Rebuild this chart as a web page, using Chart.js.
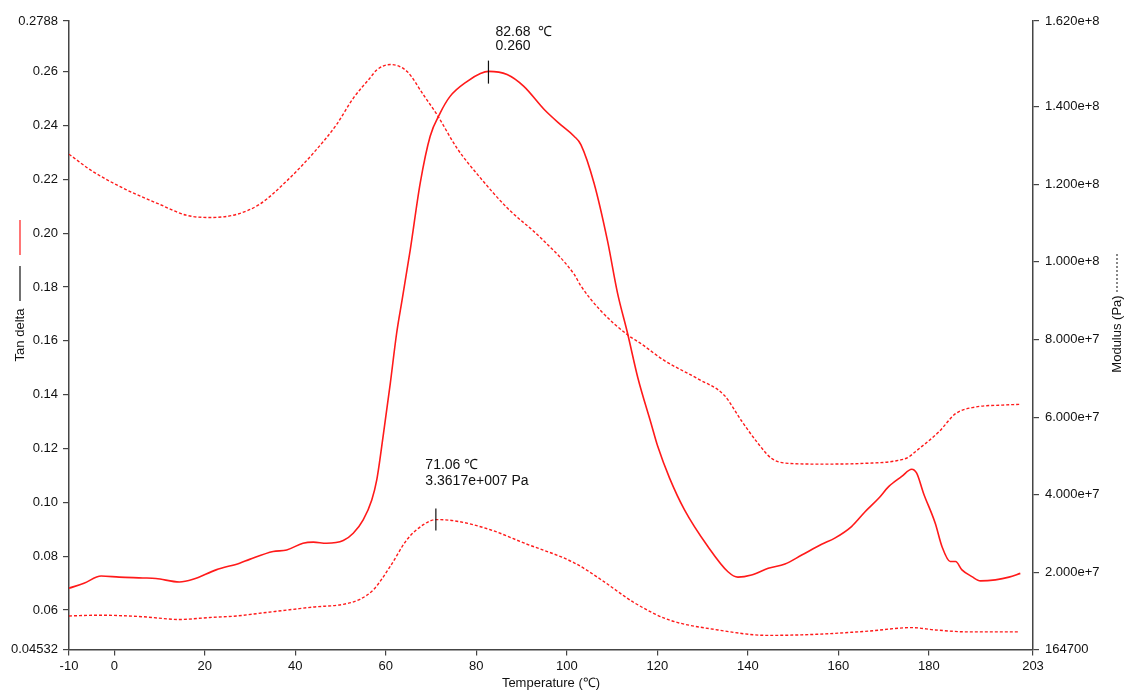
<!DOCTYPE html>
<html>
<head>
<meta charset="utf-8">
<script src="https://cdn.jsdelivr.net/npm/chart.js@4/dist/chart.umd.min.js"></script>
<style>
  html, body { margin: 0; padding: 0; background: #fff; }
  #wrap { position: relative; width: 1126px; height: 691px; }
</style>
</head>
<body>
<div id="wrap"><canvas id="dma"></canvas></div>
<script>
// ---- data ----
var tempTicks = [-10, 0, 20, 40, 60, 80, 100, 120, 140, 160, 180, 203];
var tanTicks = [0.04532, 0.06, 0.08, 0.10, 0.12, 0.14, 0.16, 0.18, 0.20, 0.22, 0.24, 0.26, 0.2788];
var modTicks = [164700, 2e7, 4e7, 6e7, 8e7, 1e8, 1.2e8, 1.4e8, 1.62e8];

// tan delta (solid)
var tanTemp = [-10, -6.7, -2.9, 1.1, 6.3, 9.2, 14.4, 17.4, 22.5, 27.7, 29.9, 35.1, 38.1, 41.7, 44, 46.9, 50.6, 52.8, 55, 56.9, 58,
  59.5, 61, 62.4, 63.6, 65.4, 67.6, 69.8, 72, 74.2, 78, 80.9, 82.7, 86.8, 90.5, 95, 98.6, 101.6, 103.1, 106, 109, 111.2, 113.4,
  115.7, 118.6, 120.1, 122.7, 126, 131.2, 135.6, 137.8, 140.8, 144.5, 148.2, 151.9, 156.3, 159.2, 162.9, 165.9, 168.9, 171.1,
  174, 176.2, 177.3, 178.8, 181.4, 182.9, 184.7, 185.9, 187.3, 189.5, 191.4, 194.7, 197.7, 200.2];
var tanDelta = [0.0681, 0.0699, 0.0726, 0.0722, 0.0719, 0.0717, 0.0704, 0.0714, 0.0749, 0.0774, 0.0788, 0.0817, 0.0823, 0.0848, 0.0852, 0.0848, 0.0858, 0.0885, 0.0935, 0.1009, 0.1083,
  0.1257, 0.1443, 0.1629, 0.1752, 0.1938, 0.2186, 0.2360, 0.2446, 0.2508, 0.2564, 0.2593, 0.2601, 0.2589, 0.2545, 0.2459, 0.2403, 0.2360, 0.2329, 0.2186, 0.1970, 0.1777, 0.1629,
  0.1462, 0.1294, 0.1207, 0.1090, 0.0972, 0.0835, 0.0742, 0.0722, 0.0730, 0.0755, 0.0771, 0.0804, 0.0844, 0.0867, 0.0910, 0.0965, 0.1015, 0.1058,
  0.1096, 0.1123, 0.1108, 0.1034, 0.0922, 0.0835, 0.0780, 0.0780, 0.0749, 0.0724, 0.0708, 0.0712, 0.0722, 0.0736];

// storage modulus (upper dashed, Pa)
var storTemp = [-10, -4.8, 2.6, 10, 15.9, 21.1, 27, 32.1, 38.1, 44, 49.1, 52.8, 56.5, 58, 61, 64.7, 68.3, 71.3, 75.7, 80.9, 86.8,
  94.2, 101.6, 103.1, 107.5, 113.4, 116.4, 121.5, 128.9, 134.8, 138.5, 142.2, 145.2, 148.9, 156.3, 165.9, 172.5, 175.5, 177,
  182.2, 185.9, 190.3, 196.2, 200.2];
var storMod = [12.77e7, 12.33e7, 11.86e7, 11.48e7, 11.2e7, 11.14e7, 11.22e7, 11.48e7, 12.08e7, 12.8e7, 13.53e7, 14.21e7, 14.73e7, 14.94e7, 15.08e7, 14.9e7, 14.3e7, 13.79e7, 12.93e7, 12.16e7, 11.39e7,
  10.62e7, 9.68e7, 9.38e7, 8.74e7, 8.12e7, 7.89e7, 7.46e7, 6.99e7, 6.56e7, 5.92e7, 5.33e7, 4.94e7, 4.81e7, 4.79e7, 4.81e7, 4.87e7, 4.97e7, 5.11e7,
  5.62e7, 6.09e7, 6.26e7, 6.31e7, 6.33e7];

// loss modulus (lower dashed, Pa)
var lossTemp = [-10, -3.3, 6.3, 14.4, 21.1, 27, 33.6, 39.5, 44, 50.6, 54.3, 57.3, 61, 64.7, 68.3, 71.06, 75.7, 83.1, 90.5, 101.6,
  107.5, 112.7, 114.9, 122.3, 133.4, 144.5, 155.6, 166.6, 176.2, 181.4, 188.8, 199.9];
var lossMod = [0.88e7, 0.9e7, 0.86e7, 0.79e7, 0.84e7, 0.88e7, 0.97e7, 1.05e7, 1.11e7, 1.18e7, 1.31e7, 1.56e7, 2.16e7, 2.85e7, 3.23e7, 3.3617e7, 3.32e7, 3.1e7, 2.76e7, 2.25e7,
  1.82e7, 1.39e7, 1.22e7, 0.79e7, 0.52e7, 0.38e7, 0.41e7, 0.49e7, 0.58e7, 0.52e7, 0.47e7, 0.47e7];

// peak markers
var tanPeak = { t: 82.68, v: 0.260, lines: ['82.68  ℃', '0.260'] };
var lossPeak = { t: 71.06, v: 3.3617e7, lines: ['71.06 ℃', '3.3617e+007 Pa'] };

var FONT = "'Liberation Sans', Arial, Helvetica, sans-serif";
var RED = '#ff1a1a';
var AX = '#444';

function pts(xs, ys) { return xs.map(function (x, i) { return { x: x, y: ys[i] }; }); }
function fixTicks(list) { return function (s) { s.ticks = list.map(function (v) { return { value: v }; }); }; }

// axis titles + peak annotations
var deco = {
  id: 'deco',
  afterDraw: function (ch) {
    var c = ch.ctx, xs = ch.scales.x, ys = ch.scales.y, ms = ch.scales.y1;
    c.save();
    c.font = '13px ' + FONT; c.fillStyle = '#111'; c.textBaseline = 'middle';

    // left: "Tan delta —" rotated, with red key above
    c.save(); c.translate(20, 335); c.rotate(-Math.PI / 2); c.textAlign = 'center'; c.fillText('Tan delta', 0, 0); c.restore();
    c.strokeStyle = '#111'; c.lineWidth = 1.2;
    c.beginPath(); c.moveTo(20, 266); c.lineTo(20, 301); c.stroke();
    c.strokeStyle = RED;
    c.beginPath(); c.moveTo(20, 220); c.lineTo(20, 255); c.stroke();

    // right: "Modulus (Pa) -------" rotated
    c.save(); c.translate(1117, 334); c.rotate(-Math.PI / 2); c.textAlign = 'center'; c.fillText('Modulus (Pa)', 0, 0); c.restore();
    c.strokeStyle = '#111'; c.lineWidth = 1; c.setLineDash([2, 2]);
    c.beginPath(); c.moveTo(1117, 292); c.lineTo(1117, 252); c.stroke();
    c.setLineDash([]);

    // peak markers
    c.font = '14px ' + FONT; c.textBaseline = 'alphabetic'; c.textAlign = 'left'; c.fillStyle = '#111';
    c.strokeStyle = '#111'; c.lineWidth = 1.2;
    var px = xs.getPixelForValue(tanPeak.t), py = ys.getPixelForValue(tanPeak.v);
    c.beginPath(); c.moveTo(px, py - 11); c.lineTo(px, py + 12); c.stroke();
    c.fillText(tanPeak.lines[0], px + 7, py - 36);
    c.fillText(tanPeak.lines[1], px + 7, py - 22);
    var lx = xs.getPixelForValue(lossPeak.t), ly = ms.getPixelForValue(lossPeak.v);
    c.beginPath(); c.moveTo(lx, ly - 11); c.lineTo(lx, ly + 11); c.stroke();
    c.fillText(lossPeak.lines[0], lx - 10.5, ly - 51);
    c.fillText(lossPeak.lines[1], lx - 10.5, ly - 35);
    c.restore();
  }
};

var tickFont = { family: FONT, size: 13 };

new Chart(document.getElementById('dma').getContext('2d'), {
  type: 'line',
  data: {
    datasets: [
      { label: 'Tan delta', data: pts(tanTemp, tanDelta), yAxisID: 'y', borderColor: RED, borderWidth: 1.6, pointRadius: 0, fill: false, cubicInterpolationMode: 'monotone' },
      { label: 'Storage modulus', data: pts(storTemp, storMod), yAxisID: 'y1', borderColor: RED, borderWidth: 1.4, borderDash: [3, 2], pointRadius: 0, fill: false, cubicInterpolationMode: 'monotone' },
      { label: 'Loss modulus', data: pts(lossTemp, lossMod), yAxisID: 'y1', borderColor: RED, borderWidth: 1.4, borderDash: [3, 2], pointRadius: 0, fill: false, cubicInterpolationMode: 'monotone' }
    ]
  },
  options: {
    responsive: true, maintainAspectRatio: false, animation: false,
    layout: { padding: { top: 21, left: 0, right: 0, bottom: 0 } },
    plugins: { legend: { display: false }, tooltip: { enabled: false } },
    scales: {
      x: {
        type: 'linear', min: -10, max: 203,
        afterBuildTicks: fixTicks(tempTicks),
        afterFit: function (s) { s.height = 41.5; },
        ticks: { autoSkip: false, maxRotation: 0, color: '#111', font: tickFont, padding: 3 },
        grid: { drawOnChartArea: false, tickLength: 6, color: AX, lineWidth: 1.2 },
        border: { color: AX, width: 1.5 },
        title: { display: true, text: 'Temperature (℃)', color: '#111', font: tickFont, padding: { top: 1, bottom: 0 } }
      },
      y: {
        position: 'left', min: 0.04532, max: 0.2788,
        afterBuildTicks: fixTicks(tanTicks),
        afterFit: function (s) { s.width = 69; },
        ticks: { autoSkip: false, color: '#111', font: tickFont, padding: 5,
          callback: function (v) { return (v === 0.04532 || v === 0.2788) ? String(v) : v.toFixed(2); } },
        grid: { drawOnChartArea: false, tickLength: 6, color: AX, lineWidth: 1.2 },
        border: { color: AX, width: 1.5 }
      },
      y1: {
        position: 'right', min: 164700, max: 1.62e8,
        afterBuildTicks: fixTicks(modTicks),
        afterFit: function (s) { s.width = 93; },
        ticks: { autoSkip: false, color: '#111', font: tickFont, padding: 6,
          callback: function (v) { return v === 164700 ? '164700' : v.toExponential(3); } },
        grid: { drawOnChartArea: false, tickLength: 6, color: AX, lineWidth: 1.2 },
        border: { color: AX, width: 1.5 }
      }
    }
  },
  plugins: [deco]
});
</script>
</body>
</html>
